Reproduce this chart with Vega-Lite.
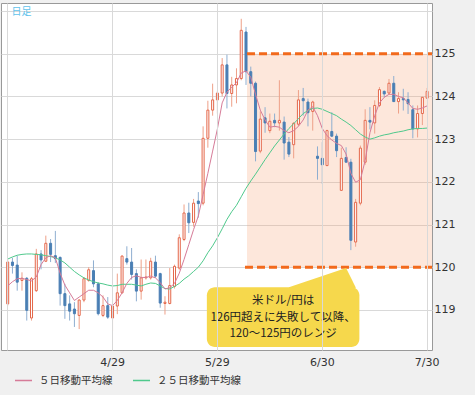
{
  "$schema": "https://vega.github.io/schema/vega-lite/v6.json",
  "width": 431,
  "height": 347,
  "autosize": {"type": "none"},
  "padding": {"left": 1, "top": 3, "right": 43, "bottom": 45},
  "background": "#f0f0f0",
  "config": {
    "view": {"stroke": "#999999", "fill": "#ffffff"},
    "axis": {"labelFont": "DejaVu Sans", "labelFontSize": 11, "labelColor": "#333333", "gridColor": "#d9d9d9", "gridWidth": 1}
  },
  "data": {"values": [
    {"d":"3/30","o":119.14,"h":120.16,"l":119.10,"c":120.12,"m5":119.56,"m25":120.19},
    {"d":"3/31","o":120.12,"h":120.22,"l":119.85,"c":120.04,"m5":119.66,"m25":120.24},
    {"d":"4/1","o":120.05,"h":120.27,"l":119.45,"c":119.65,"m5":119.73,"m25":120.28},
    {"d":"4/2","o":119.69,"h":119.88,"l":119.45,"c":119.74,"m5":119.74,"m25":120.30},
    {"d":"4/3","o":119.74,"h":119.77,"l":118.75,"c":118.99,"m5":119.71,"m25":120.31},
    {"d":"4/6","o":118.81,"h":119.77,"l":118.75,"c":119.73,"m5":119.68,"m25":120.31},
    {"d":"4/7","o":119.45,"h":120.43,"l":119.42,"c":120.31,"m5":119.77,"m25":120.30},
    {"d":"4/8","o":120.31,"h":120.40,"l":119.95,"c":120.17,"m5":120.06,"m25":120.29},
    {"d":"4/9","o":120.14,"h":120.74,"l":120.12,"c":120.56,"m5":120.22,"m25":120.27},
    {"d":"4/10","o":120.56,"h":120.66,"l":120.12,"c":120.30,"m5":120.27,"m25":120.25},
    {"d":"4/13","o":120.27,"h":120.85,"l":120.10,"c":120.20,"m5":120.22,"m25":120.22},
    {"d":"4/14","o":120.23,"h":120.25,"l":119.10,"c":119.38,"m5":119.86,"m25":120.17},
    {"d":"4/15","o":119.38,"h":119.61,"l":118.79,"c":119.10,"m5":119.58,"m25":120.10},
    {"d":"4/16","o":119.14,"h":119.34,"l":118.75,"c":118.97,"m5":119.40,"m25":120.00},
    {"d":"4/17","o":119.02,"h":119.18,"l":118.60,"c":118.91,"m5":119.22,"m25":119.90},
    {"d":"4/20","o":118.87,"h":119.25,"l":118.55,"c":119.23,"m5":119.30,"m25":119.82},
    {"d":"4/21","o":119.23,"h":119.77,"l":119.18,"c":119.73,"m5":119.38,"m25":119.75},
    {"d":"4/22","o":119.69,"h":120.00,"l":119.66,"c":119.94,"m5":119.46,"m25":119.70},
    {"d":"4/23","o":119.92,"h":120.16,"l":119.53,"c":119.61,"m5":119.46,"m25":119.66},
    {"d":"4/24","o":119.61,"h":119.65,"l":118.87,"c":118.91,"m5":119.40,"m25":119.63},
    {"d":"4/27","o":118.87,"h":119.34,"l":118.83,"c":119.10,"m5":119.30,"m25":119.61},
    {"d":"4/28","o":119.10,"h":119.30,"l":118.79,"c":118.83,"m5":119.14,"m25":119.58},
    {"d":"4/29","o":118.81,"h":119.26,"l":118.50,"c":119.09,"m5":119.10,"m25":119.56},
    {"d":"4/30","o":119.09,"h":119.85,"l":118.90,"c":119.40,"m5":119.22,"m25":119.57},
    {"d":"5/1","o":119.40,"h":120.28,"l":119.38,"c":120.26,"m5":119.40,"m25":119.60},
    {"d":"5/4","o":120.20,"h":120.49,"l":120.06,"c":120.12,"m5":119.62,"m25":119.60},
    {"d":"5/5","o":120.12,"h":120.45,"l":119.71,"c":119.83,"m5":119.76,"m25":119.60},
    {"d":"5/6","o":119.85,"h":119.95,"l":119.20,"c":119.44,"m5":119.80,"m25":119.58},
    {"d":"5/7","o":119.44,"h":120.18,"l":119.24,"c":119.75,"m5":119.76,"m25":119.56},
    {"d":"5/8","o":119.75,"h":120.18,"l":119.71,"c":119.77,"m5":119.76,"m25":119.60},
    {"d":"5/11","o":119.75,"h":120.22,"l":119.71,"c":120.14,"m5":119.79,"m25":119.63},
    {"d":"5/12","o":120.12,"h":120.27,"l":119.75,"c":119.79,"m5":119.75,"m25":119.62},
    {"d":"5/13","o":119.85,"h":119.87,"l":119.05,"c":119.16,"m5":119.64,"m25":119.56},
    {"d":"5/14","o":119.15,"h":119.32,"l":118.89,"c":119.18,"m5":119.49,"m25":119.50},
    {"d":"5/15","o":119.15,"h":119.98,"l":119.13,"c":119.57,"m5":119.52,"m25":119.49},
    {"d":"5/18","o":119.55,"h":120.06,"l":119.50,"c":120.02,"m5":119.62,"m25":119.55},
    {"d":"5/19","o":119.98,"h":120.77,"l":119.94,"c":120.69,"m5":119.86,"m25":119.62},
    {"d":"5/20","o":120.65,"h":121.47,"l":120.61,"c":121.27,"m5":120.18,"m25":119.72},
    {"d":"5/21","o":121.27,"h":121.51,"l":120.80,"c":121.04,"m5":120.53,"m25":119.80},
    {"d":"5/22","o":121.05,"h":121.60,"l":120.95,"c":121.50,"m5":120.88,"m25":119.90},
    {"d":"5/25","o":121.55,"h":121.76,"l":121.16,"c":121.49,"m5":121.20,"m25":120.00},
    {"d":"5/26","o":121.50,"h":123.30,"l":121.45,"c":123.02,"m5":121.70,"m25":120.15},
    {"d":"5/27","o":123.02,"h":123.90,"l":122.80,"c":123.68,"m5":122.20,"m25":120.34},
    {"d":"5/28","o":123.68,"h":124.30,"l":123.55,"c":123.92,"m5":122.72,"m25":120.50},
    {"d":"5/29","o":123.92,"h":124.13,"l":123.60,"c":124.08,"m5":123.24,"m25":120.69},
    {"d":"6/1","o":124.08,"h":124.90,"l":124.00,"c":124.74,"m5":123.85,"m25":120.90},
    {"d":"6/2","o":124.74,"h":124.98,"l":123.72,"c":124.07,"m5":124.10,"m25":121.12},
    {"d":"6/3","o":124.07,"h":124.46,"l":123.76,"c":124.27,"m5":124.22,"m25":121.30},
    {"d":"6/4","o":124.27,"h":124.66,"l":123.84,"c":124.42,"m5":124.32,"m25":121.45},
    {"d":"6/5","o":124.42,"h":125.82,"l":124.38,"c":125.55,"m5":124.55,"m25":121.65},
    {"d":"6/8","o":125.51,"h":125.63,"l":124.27,"c":124.58,"m5":124.60,"m25":121.85},
    {"d":"6/9","o":124.58,"h":124.70,"l":124.00,"c":124.31,"m5":124.45,"m25":122.02},
    {"d":"6/10","o":124.31,"h":124.35,"l":122.48,"c":122.71,"m5":124.05,"m25":122.18},
    {"d":"6/11","o":122.72,"h":123.65,"l":122.67,"c":123.47,"m5":123.68,"m25":122.35},
    {"d":"6/12","o":123.50,"h":123.75,"l":123.15,"c":123.38,"m5":123.45,"m25":122.52},
    {"d":"6/15","o":123.20,"h":123.60,"l":123.14,"c":123.42,"m5":123.28,"m25":122.68},
    {"d":"6/16","o":123.44,"h":123.60,"l":123.28,"c":123.38,"m5":123.30,"m25":122.84},
    {"d":"6/17","o":123.38,"h":124.38,"l":123.20,"c":123.44,"m5":123.28,"m25":122.98},
    {"d":"6/18","o":123.40,"h":123.53,"l":122.52,"c":122.91,"m5":123.20,"m25":123.12},
    {"d":"6/19","o":122.93,"h":123.05,"l":122.58,"c":122.65,"m5":123.15,"m25":123.25},
    {"d":"6/22","o":122.87,"h":123.40,"l":122.55,"c":123.37,"m5":123.20,"m25":123.36},
    {"d":"6/23","o":123.35,"h":124.15,"l":123.30,"c":123.92,"m5":123.30,"m25":123.48},
    {"d":"6/24","o":123.95,"h":124.20,"l":123.55,"c":123.90,"m5":123.45,"m25":123.60},
    {"d":"6/25","o":123.87,"h":123.95,"l":123.30,"c":123.62,"m5":123.68,"m25":123.67},
    {"d":"6/26","o":123.65,"h":123.90,"l":123.20,"c":123.87,"m5":123.76,"m25":123.72},
    {"d":"6/29","o":122.60,"h":122.83,"l":122.05,"c":122.55,"m5":123.55,"m25":123.73},
    {"d":"6/30","o":122.55,"h":122.93,"l":121.95,"c":122.40,"m5":123.25,"m25":123.70},
    {"d":"7/1","o":122.38,"h":123.22,"l":122.38,"c":123.20,"m5":123.08,"m25":123.65},
    {"d":"7/2","o":123.18,"h":123.63,"l":123.05,"c":123.07,"m5":122.98,"m25":123.60},
    {"d":"7/3","o":123.07,"h":123.13,"l":122.58,"c":122.73,"m5":122.90,"m25":123.55},
    {"d":"7/6","o":121.80,"h":122.80,"l":121.80,"c":122.55,"m5":122.85,"m25":123.47},
    {"d":"7/7","o":122.57,"h":122.81,"l":122.46,"c":122.46,"m5":122.65,"m25":123.40},
    {"d":"7/8","o":122.46,"h":122.54,"l":120.40,"c":120.63,"m5":122.20,"m25":123.32},
    {"d":"7/9","o":120.59,"h":121.60,"l":120.48,"c":121.52,"m5":121.99,"m25":123.22},
    {"d":"7/10","o":121.50,"h":122.85,"l":121.45,"c":122.79,"m5":122.05,"m25":123.12},
    {"d":"7/13","o":122.46,"h":123.70,"l":122.40,"c":123.44,"m5":122.50,"m25":123.05},
    {"d":"7/14","o":123.44,"h":123.75,"l":123.23,"c":123.40,"m5":123.15,"m25":123.00},
    {"d":"7/15","o":123.38,"h":123.91,"l":123.13,"c":123.79,"m5":123.55,"m25":123.03},
    {"d":"7/16","o":123.79,"h":124.22,"l":123.75,"c":124.16,"m5":123.85,"m25":123.07},
    {"d":"7/17","o":124.12,"h":124.14,"l":123.98,"c":124.06,"m5":123.98,"m25":123.10},
    {"d":"7/20","o":124.08,"h":124.41,"l":124.06,"c":124.31,"m5":124.05,"m25":123.12},
    {"d":"7/21","o":124.31,"h":124.48,"l":123.87,"c":123.88,"m5":124.05,"m25":123.15},
    {"d":"7/22","o":123.88,"h":124.10,"l":123.60,"c":123.95,"m5":124.00,"m25":123.17},
    {"d":"7/23","o":123.95,"h":124.18,"l":123.67,"c":123.92,"m5":123.97,"m25":123.19},
    {"d":"7/24","o":123.93,"h":124.10,"l":123.59,"c":123.83,"m5":123.85,"m25":123.22},
    {"d":"7/27","o":123.69,"h":123.79,"l":123.02,"c":123.24,"m5":123.72,"m25":123.24},
    {"d":"7/28","o":123.24,"h":123.79,"l":123.04,"c":123.60,"m5":123.70,"m25":123.25},
    {"d":"7/29","o":123.60,"h":123.98,"l":123.33,"c":123.98,"m5":123.73,"m25":123.25},
    {"d":"7/30","o":123.96,"h":124.20,"l":123.95,"c":124.12,"m5":123.78,"m25":123.26}
  ]},
  "layer": [
    {
      "data": {"values": [{}]},
      "mark": {"type": "rect", "color": "#f8a070", "opacity": 0.25},
      "encoding": {
        "x": {"datum": "6/8", "type": "nominal", "bandPosition": 1,
          "scale": {"type": "band", "domain": ["3/30","3/31","4/1","4/2","4/3","4/6","4/7","4/8","4/9","4/10","4/13","4/14","4/15","4/16","4/17","4/20","4/21","4/22","4/23","4/24","4/27","4/28","4/29","4/30","5/1","5/4","5/5","5/6","5/7","5/8","5/11","5/12","5/13","5/14","5/15","5/18","5/19","5/20","5/21","5/22","5/25","5/26","5/27","5/28","5/29","6/1","6/2","6/3","6/4","6/5","6/8","6/9","6/10","6/11","6/12","6/15","6/16","6/17","6/18","6/19","6/22","6/23","6/24","6/25","6/26","6/29","6/30","7/1","7/2","7/3","7/6","7/7","7/8","7/9","7/10","7/13","7/14","7/15","7/16","7/17","7/20","7/21","7/22","7/23","7/24","7/27","7/28","7/29","7/30"],
            "paddingInner": 0.575, "paddingOuter": 1.737, "align": 0.595, "round": false},
          "axis": {"values": ["3/30","4/29","5/29","6/30","7/30"], "labelExpr": "datum.value == '3/30' ? '' : datum.value",
            "grid": true, "ticks": false, "domain": false, "labelPadding": 6, "labelAngle": 0, "title": null, "bandPosition": 0.5}},
        "x2": {"value": "width"},
        "y": {"datum": 125, "type": "quantitative",
          "scale": {"domain": [118.06, 126.19], "nice": false, "zero": false},
          "axis": {"orient": "right", "values": [119,120,121,122,123,124,125,126], "labelExpr": "datum.value == 126 ? '' : datum.label",
            "grid": true, "ticks": false, "tickSize": 0, "domain": false, "labelPadding": 2, "title": null}},
        "y2": {"datum": 120}
      }
    },
    {
      "mark": {"type": "rule", "strokeWidth": 1},
      "encoding": {
        "x": {"field": "d", "type": "nominal"},
        "y": {"field": "l", "type": "quantitative"},
        "y2": {"field": "h"},
        "color": {"condition": {"test": "datum.c >= datum.o", "value": "#eea088"}, "value": "#8eaed0"}
      }
    },
    {
      "mark": {"type": "bar", "strokeWidth": 1},
      "encoding": {
        "x": {"field": "d", "type": "nominal"},
        "y": {"field": "o", "type": "quantitative"},
        "y2": {"field": "c"},
        "fill": {"condition": {"test": "datum.c >= datum.o", "value": "#ffffff"}, "value": "#4a7fb4"},
        "stroke": {"condition": {"test": "datum.c >= datum.o", "value": "#e4674a"}, "value": "#4a7fb4"}
      }
    },
    {
      "mark": {"type": "line", "strokeWidth": 1},
      "encoding": {
        "x": {"field": "d", "type": "nominal"},
        "y": {"field": "m25", "type": "quantitative"},
        "color": {"datum": "２５日移動平均線", "type": "nominal",
          "scale": {"domain": ["５日移動平均線", "２５日移動平均線"], "range": ["#d67b98", "#4fc98c"]},
          "legend": {"orient": "none", "legendX": 13, "legendY": 368, "direction": "horizontal", "title": null,
            "symbolType": "stroke", "symbolSize": 289, "symbolStrokeWidth": 1.5, "labelFont": "Noto Sans CJK JP",
            "labelFontSize": 10.5, "labelColor": "#333333", "labelOffset": 6, "columnPadding": 17, "padding": 0}}
      }
    },
    {
      "mark": {"type": "line", "strokeWidth": 1},
      "encoding": {
        "x": {"field": "d", "type": "nominal"},
        "y": {"field": "m5", "type": "quantitative"},
        "color": {"datum": "５日移動平均線", "type": "nominal"}
      }
    },
    {
      "data": {"values": [{}]},
      "mark": {"type": "rule", "color": "#f26a1c", "strokeWidth": 3, "strokeDash": [8, 4]},
      "encoding": {
        "x": {"datum": "6/8", "type": "nominal", "bandPosition": 1},
        "x2": {"value": "width"},
        "y": {"datum": 125, "type": "quantitative"}
      }
    },
    {
      "data": {"values": [{}]},
      "mark": {"type": "rule", "color": "#f26a1c", "strokeWidth": 3, "strokeDash": [8, 4]},
      "encoding": {
        "x": {"datum": "6/8", "type": "nominal", "bandPosition": 0},
        "x2": {"value": "width"},
        "y": {"datum": 120, "type": "quantitative"}
      }
    },
    {
      "data": {"values": [{"d": "6/19", "p": 119.53}, {"d": "7/7", "p": 119.98}, {"d": "7/9", "p": 119.53}]},
      "mark": {"type": "area", "color": "#f6d84c", "interpolate": "linear"},
      "encoding": {
        "x": {"field": "d", "type": "nominal"},
        "y": {"field": "p", "type": "quantitative"},
        "y2": {"datum": 119.5}
      }
    },
    {
      "data": {"values": [{}]},
      "mark": {"type": "rect", "color": "#f6d84c", "cornerRadius": 8},
      "encoding": {
        "x": {"datum": "5/27", "type": "nominal", "bandPosition": 0},
        "x2": {"datum": "7/10", "bandPosition": 0},
        "y": {"datum": 119.53, "type": "quantitative"},
        "y2": {"datum": 118.13}
      }
    },
    {
      "data": {"values": [{}]},
      "mark": {"type": "text", "text": ["米ドル/円は", "126円超えに失敗して以降、", "120～125円のレンジ"],
        "font": "Noto Sans CJK JP", "fontSize": 11.5, "lineHeight": 16.2, "align": "center", "baseline": "middle", "color": "#222222"},
      "encoding": {
        "x": {"datum": "6/18", "type": "nominal", "bandPosition": 0},
        "y": {"datum": 119.2, "type": "quantitative"}
      }
    },
    {
      "data": {"values": [{}]},
      "mark": {"type": "text", "text": "日足", "font": "Noto Sans CJK JP", "fontSize": 10, "align": "left", "baseline": "middle", "color": "#5fc3ec"},
      "encoding": {
        "x": {"datum": "3/31", "type": "nominal", "bandPosition": 0},
        "y": {"datum": 125.98, "type": "quantitative"}
      }
    }
  ]
}
